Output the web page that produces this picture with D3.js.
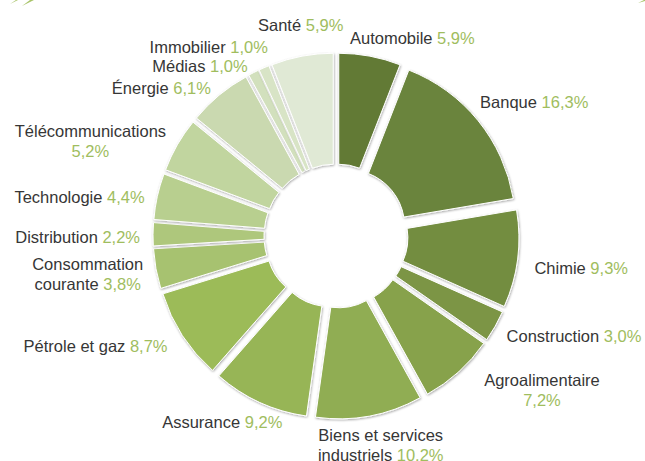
<!DOCTYPE html>
<html lang="fr">
<head>
<meta charset="utf-8">
<title>Répartition sectorielle</title>
<script src="https://cdn.jsdelivr.net/npm/d3@7.9.0/dist/d3.min.js"></script>
<style>
  body { margin: 0; background: #fff; }
  svg { display: block; font-family: "Liberation Sans", Arial, sans-serif; }
  text { font-size: 16.5px; white-space: pre; }
  .name { fill: #363636; }
  .value { fill: #a0bd5e; }
</style>
</head>
<body>
<svg id="chart" width="645" height="461"></svg>
<script>
// sectors, clockwise from 12 o'clock
const sectors = [
  'Automobile', 'Banque', 'Chimie', 'Construction', 'Agroalimentaire',
  'Biens et services industriels', 'Assurance', 'Pétrole et gaz',
  'Consommation courante', 'Distribution', 'Technologie',
  'Télécommunications', 'Énergie', 'Médias', 'Immobilier', 'Santé'
];
const weights = [5.9, 16.3, 9.3, 3.0, 7.2, 10.2, 9.2, 8.7, 3.8, 2.2, 4.4, 5.2, 6.1, 1.0, 1.0, 5.9];

// olive shades, dark -> light
const palette = [
  '#627a36', '#6a843c', '#738d41', '#7b9545', '#87a24c', '#90ad52',
  '#97b556', '#9cbb59', '#a7c270', '#aec77c', '#b8cf8f', '#c1d59f',
  '#cad9b0', '#d2e0bd', '#d8e4c6', '#e0e9d5'
];

const data = sectors.map((name, i) => ({
  name,
  weight: weights[i],
  label: weights[i].toFixed(1).replace('.', ',') + '%'
}));

// words kept on first line for wrapped labels
const wrapAfter = {
  'Télécommunications': 1,
  'Agroalimentaire': 1,
  'Consommation courante': 1,
  'Biens et services industriels': 3
};
// manual label shifts where Excel moved labels to avoid overlaps
const nudge = {
  'Automobile': [40, 4],
  'Banque': [-8, -13],
  'Chimie': [4, 4],
  'Agroalimentaire': [17, 5],
  'Assurance': [28, 5],
  'Pétrole et gaz': [-4, 0],
  'Médias': [0, 2],
  'Immobilier': [9, -12],
  'Santé': [1, -9],
  'Biens et services industriels': [9, -3]
};

const width = 645, height = 461;
const cx = 336, cy = 236;
const innerR = 57, outerR = 168, explode = 15, labelR = 196;
const fontSize = 16.5, lineH = 20;

const svg = d3.select('#chart');
const color = d3.scaleOrdinal(sectors, palette);

const defs = svg.append('defs');
const shadow = defs.append('filter').attr('id', 'shadow')
  .attr('x', '-10%').attr('y', '-10%').attr('width', '120%').attr('height', '120%');
shadow.append('feDropShadow')
  .attr('dx', 0.6).attr('dy', 1).attr('stdDeviation', 0.9)
  .attr('flood-color', '#000').attr('flood-opacity', 0.35);

// small decorative strokes cut at the top edge
const decor = svg.append('g').attr('fill', '#a9c46a');
decor.append('path').attr('d', 'M10,4 L16,0 L18,0 Z');
decor.append('path').attr('d', 'M22,6 L30,0 L34,0 Z');
decor.append('path').attr('d', 'M638,3 L644,0 L645,0 L645,1 Z');

const pie = d3.pie().sort(null).value(d => d.weight);
const arc = d3.arc().innerRadius(innerR).outerRadius(outerR);
const arcs = pie(data);

const midAngle = d => (d.startAngle + d.endAngle) / 2;

svg.append('g')
  .attr('transform', `translate(${cx},${cy})`)
  .selectAll('path')
  .data(arcs)
  .join('path')
  .attr('d', arc)
  .attr('transform', d => {
    const a = midAngle(d);
    return `translate(${explode * Math.sin(a)},${-explode * Math.cos(a)})`;
  })
  .attr('fill', d => color(d.data.name))
  .attr('stroke', '#fff')
  .attr('stroke-width', 1)
  .attr('filter', 'url(#shadow)');

function labelLines(d) {
  const n = wrapAfter[d.name];
  if (n === undefined) return [{ name: d.name + ' ', value: d.label }];
  const words = d.name.split(' ');
  const rest = words.slice(n).join(' ');
  return [
    { name: words.slice(0, n).join(' '), value: '' },
    { name: rest ? rest + ' ' : '', value: d.label }
  ];
}

const labels = svg.append('g')
  .selectAll('g')
  .data(arcs)
  .join('g');

labels.each(function(d) {
  const g = d3.select(this);
  const lines = labelLines(d.data);
  lines.forEach((l, i) => {
    const t = g.append('text')
      .attr('text-anchor', 'middle')
      .attr('y', (i - (lines.length - 1) / 2) * lineH + fontSize * 0.36);
    if (l.name) t.append('tspan').attr('class', 'name').text(l.name);
    if (l.value) t.append('tspan').attr('class', 'value').text(l.value);
  });
  const w = d3.max(g.selectAll('text').nodes(), n => n.getComputedTextLength());
  const h = (lines.length - 1) * lineH + fontSize * 0.72;
  const a = midAngle(d);
  const px = cx + labelR * Math.sin(a);
  const py = cy - labelR * Math.cos(a);
  let x, y;
  if (Math.abs(Math.sin(a)) > 0.2) {
    // side labels: box edge touches the anchor point
    x = px + Math.sign(Math.sin(a)) * w / 2;
    y = py + 3;
  } else {
    // near top / bottom: centred above or below
    x = px;
    y = py - Math.sign(Math.cos(a)) * (h / 2 + 3);
  }
  const [nx, ny] = nudge[d.data.name] || [0, 0];
  g.attr('transform', `translate(${x + nx},${y + ny})`);
});
</script>
</body>
</html>
